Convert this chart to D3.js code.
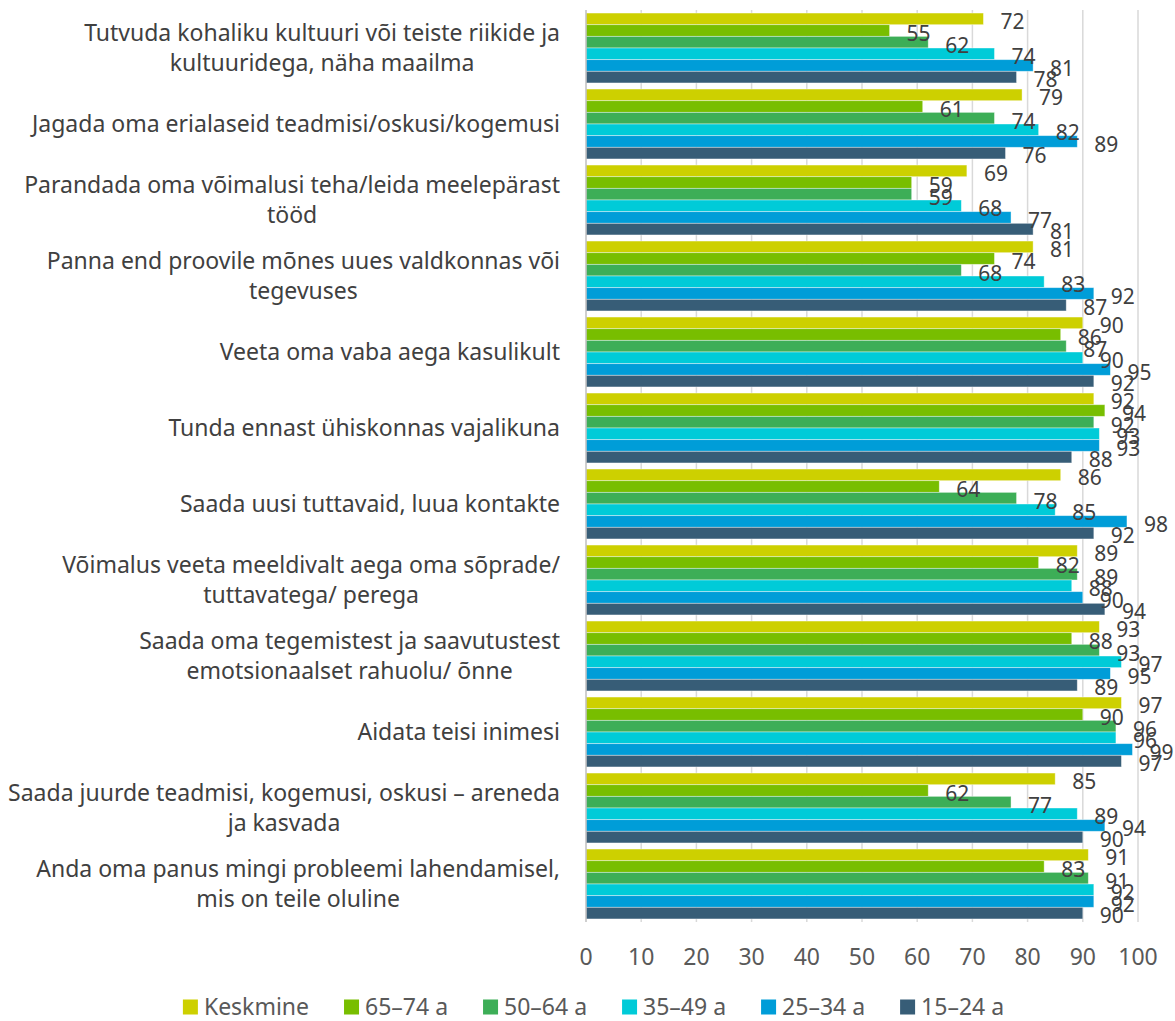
<!DOCTYPE html>
<html>
<head>
    <meta charset="utf-8">
    <title>Vabatahtliku tegevuse motiivid vanuserühmiti</title>
    <style>
        body { margin: 0; background: #fff; }
        text { font-family: "Noto Sans", "Open Sans", sans-serif; }
    </style>
    <script src="https://cdn.jsdelivr.net/npm/d3@7"></script>
</head>
<body>
<script>
    // categories (line breaks as in the original)
    var categories = [
        "Tutvuda kohaliku kultuuri või teiste riikide ja\nkultuuridega, näha maailma",
        "Jagada oma erialaseid teadmisi/oskusi/kogemusi",
        "Parandada oma võimalusi teha/leida meelepärast\ntööd",
        "Panna end proovile mõnes uues valdkonnas või\ntegevuses",
        "Veeta oma vaba aega kasulikult",
        "Tunda ennast ühiskonnas vajalikuna",
        "Saada uusi tuttavaid, luua kontakte",
        "Võimalus veeta meeldivalt aega oma sõprade/\ntuttavatega/ perega",
        "Saada oma tegemistest ja saavutustest\nemotsionaalset rahuolu/ õnne",
        "Aidata teisi inimesi",
        "Saada juurde teadmisi, kogemusi, oskusi – areneda\nja kasvada",
        "Anda oma panus mingi probleemi lahendamisel,\nmis on teile oluline"
    ];

    var seriesNames = ["Keskmine", "65–74 a", "50–64 a", "35–49 a", "25–34 a", "15–24 a"];
    var seriesColors = ["#cdd000", "#78be00", "#3dae57", "#00cbd8", "#009dd8", "#375d77"];

    var keskmine = [72, 79, 69, 81, 90, 92, 86, 89, 93, 97, 85, 91];
    var a65_74   = [55, 61, 59, 74, 86, 94, 64, 82, 88, 90, 62, 83];
    var a50_64   = [62, 74, 59, 68, 87, 92, 78, 89, 93, 96, 77, 91];
    var a35_49   = [74, 82, 68, 83, 90, 93, 85, 88, 97, 96, 89, 92];
    var a25_34   = [81, 89, 77, 92, 95, 93, 98, 90, 95, 99, 94, 92];
    var a15_24   = [78, 76, 81, 87, 92, 88, 92, 94, 89, 97, 90, 90];

    var seriesValues = [keskmine, a65_74, a50_64, a35_49, a25_34, a15_24];

    var xTicks = [0, 10, 20, 30, 40, 50, 60, 70, 80, 90, 100];

    var width = 1175, height = 1021;
    var plot = { left: 586, right: 1138, top: 10, bottom: 922 };

    var svg = d3.select("body").append("svg")
        .attr("width", width)
        .attr("height", height);

    var x = d3.scaleLinear().domain([0, 100]).range([plot.left, plot.right]);
    var y0 = d3.scaleBand()
        .domain(d3.range(categories.length))
        .range([plot.top, plot.bottom])
        .paddingInner(0.08)
        .paddingOuter(0.04);
    var y1 = d3.scaleBand()
        .domain(d3.range(seriesNames.length))
        .range([0, y0.bandwidth()]);

    // gridlines
    svg.append("g").selectAll("line")
        .data(xTicks.slice(1))
        .enter().append("line")
        .attr("x1", function(d) { return x(d); })
        .attr("x2", function(d) { return x(d); })
        .attr("y1", plot.top)
        .attr("y2", plot.bottom)
        .attr("stroke", "#d9d9d9")
        .attr("stroke-width", 1.5);

    // bars
    var groups = svg.append("g").selectAll("g")
        .data(categories)
        .enter().append("g")
        .attr("transform", function(d, i) { return "translate(0," + y0(i) + ")"; });

    groups.selectAll("rect")
        .data(function(d, i) {
            return seriesValues.map(function(s, j) { return { s: j, v: s[i] }; });
        })
        .enter().append("rect")
        .attr("x", x(0))
        .attr("y", function(d) { return y1(d.s); })
        .attr("width", function(d) { return x(d.v) - x(0); })
        .attr("height", y1.bandwidth())
        .attr("fill", function(d) { return seriesColors[d.s]; })
        .attr("stroke", "#ffffff")
        .attr("stroke-opacity", 0.5)
        .attr("stroke-width", 0.8);

    // value labels
    groups.selectAll("text.val")
        .data(function(d, i) {
            return seriesValues.map(function(s, j) { return { s: j, v: s[i] }; });
        })
        .enter().append("text")
        .attr("class", "val")
        .attr("x", function(d) { return x(d.v) + 17; })
        .attr("y", function(d) { return y1(d.s) + y1.bandwidth() / 2 + 3; })
        .attr("dy", "0.35em")
        .attr("font-size", 21)
        .attr("fill", "#404040")
        .text(function(d) { return d.v; });

    // left axis line
    svg.append("line")
        .attr("x1", plot.left).attr("x2", plot.left)
        .attr("y1", plot.top).attr("y2", plot.bottom)
        .attr("stroke", "#bfbfbf")
        .attr("stroke-width", 1.5);

    // x tick labels
    svg.append("g").selectAll("text")
        .data(xTicks)
        .enter().append("text")
        .attr("x", function(d) { return x(d); })
        .attr("y", 957)
        .attr("dy", "0.35em")
        .attr("text-anchor", "middle")
        .attr("font-size", 23)
        .attr("fill", "#595959")
        .text(function(d) { return d; });

    // category labels: lines centred in a right-aligned block
    var labelRight = 560;
    svg.append("g").selectAll("g")
        .data(categories)
        .enter().append("g")
        .each(function(d, i) {
            var g = d3.select(this);
            var lines = d.split("\n");
            var cy = y0(i) + y0.bandwidth() / 2;
            var texts = lines.map(function(l, k) {
                return g.append("text")
                    .attr("y", cy + (k - (lines.length - 1) / 2) * 30)
                    .attr("dy", "0.35em")
                    .attr("font-size", 23)
                    .attr("fill", "#404040")
                    .attr("text-anchor", "middle")
                    .text(l);
            });
            var maxW = d3.max(texts, function(t) { return t.node().getComputedTextLength(); });
            texts.forEach(function(t) { t.attr("x", labelRight - maxW / 2); });
        });

    // legend
    var legend = svg.append("g");
    var lx = 0, gap = 35;
    seriesNames.forEach(function(name, i) {
        var item = legend.append("g").attr("transform", "translate(" + lx + ",0)");
        item.append("rect")
            .attr("x", 0).attr("y", -7.5)
            .attr("width", 15).attr("height", 15)
            .attr("fill", seriesColors[i]);
        var t = item.append("text")
            .attr("x", 21)
            .attr("dy", "0.35em")
            .attr("font-size", 23)
            .attr("fill", "#595959")
            .text(name);
        lx += 21 + t.node().getComputedTextLength() + gap;
    });
    lx -= gap;
    legend.attr("transform", "translate(" + ((width - lx) / 2 + 6) + ",1007)");
</script>
</body>
</html>
